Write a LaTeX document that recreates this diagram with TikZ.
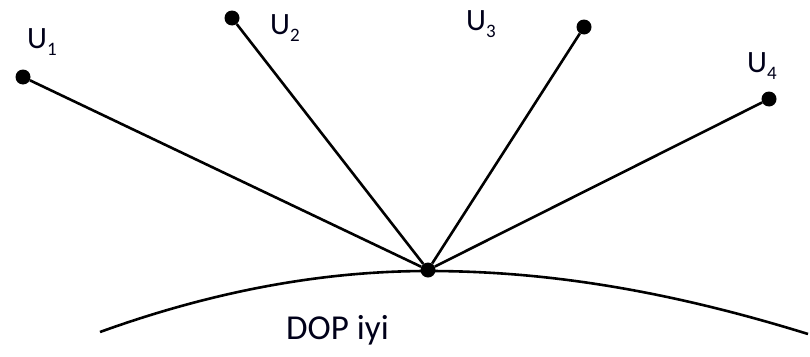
\documentclass[tikz,border=0pt]{standalone}
\usepackage{fontspec}
\setmainfont{Carlito}
\newcommand{\ulab}[1]{\fontsize{31}{31}\selectfont U\raisebox{-7pt}{\fontsize{19}{19}\selectfont #1}}
\begin{document}
\begin{tikzpicture}[x=1pt,y=-1pt,
  dotnode/.style={circle,fill=black,inner sep=0pt,minimum size=15pt},
  spoke/.style={line width=2.6pt},
  ulabel/.style={anchor=base west,inner sep=0pt,text=black!90!blue}]
\useasboundingbox (0,0) rectangle (810,356);
\node[dotnode] (c) at (428,270) {};
\node[dotnode] (u1) at (23,77) {};
\node[dotnode] (u2) at (232,18) {};
\node[dotnode] (u3) at (584,27) {};
\node[dotnode] (u4) at (769,99) {};
\draw[spoke] (u1) -- (c);
\draw[spoke] (u2) -- (c);
\draw[spoke] (u3) -- (c);
\draw[spoke] (u4) -- (c);
\coordinate (l) at (100,332);
\coordinate (r) at (808,334);
\draw[spoke] (l) .. controls (230,285) and (340,271) .. (428,271)
  .. controls (530,271) and (650,285) .. (r);
\node[ulabel] (t1) at (27,48) {\ulab{1}};
\node[ulabel] (t2) at (270,34) {\ulab{2}};
\node[ulabel] (t3) at (466,30) {\ulab{3}};
\node[ulabel] (t4) at (747,72) {\ulab{4}};
\node[ulabel] (dop) at (286,339) {\fontsize{35}{35}\selectfont DOP iyi};
\end{tikzpicture}
\end{document}
